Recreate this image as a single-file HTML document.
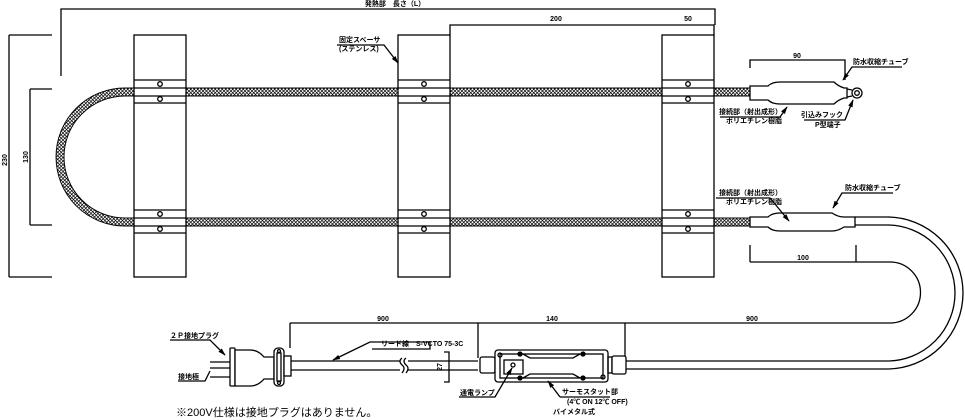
<!DOCTYPE html>
<html><head><meta charset="utf-8"><style>
body{margin:0;background:#fff}
svg{display:block}
text{font-family:"Liberation Sans","Noto Sans CJK JP",sans-serif;font-size:7px;font-weight:bold;fill:#000}
</style></head><body>
<svg width="965" height="420" viewBox="0 0 965 420" xmlns="http://www.w3.org/2000/svg">
<defs>
<pattern id="h" width="3.5" height="3.5" patternUnits="userSpaceOnUse">
<rect width="3.5" height="3.5" fill="#fff"/>
<path d="M0 0L3.5 3.5M3.5 0L0 3.5" stroke="#000" stroke-width="0.7"/>
</pattern>
<marker id="a" viewBox="0 0 10 10" refX="9" refY="5" markerWidth="6" markerHeight="6" orient="auto"><path d="M0 2L10 5L0 8z" fill="#000"/></marker>
</defs>
<g fill="none" stroke="#000" stroke-width="1.3">
<path d="M61 76V9H715V25"/>
<path d="M450 35V25H662M662 25H714V35"/>
<path d="M9 35V277M9 35H52M9 277H52"/>
<path d="M30 89V225M30 89H52M30 225H52"/>
<path d="M134 92H125A65 65 0 0 0 125 222H134" stroke="url(#h)" stroke-width="8"/>
<path d="M134 88H125A69 69 0 0 0 125 226H134M134 96H125A61 61 0 0 0 125 218H134" stroke-width="0.9"/>
<path d="M186 92H398M450 92H662M714 92H750M186 222H398M450 222H662M714 222H750" stroke="url(#h)" stroke-width="8"/>
<path d="M186 88H398M450 88H662M714 88H750M186 96H398M450 96H662M714 96H750M186 218H398M450 218H662M714 218H750M186 226H398M450 226H662M714 226H750" stroke-width="0.9"/>
<g fill="#fff">
<rect x="134" y="35" width="52" height="242"/>
<rect x="398" y="35" width="52" height="242"/>
<rect x="662" y="35" width="52" height="242"/>
</g>
<path d="M134 80H186M134 88H186M134 96H186M134 103H186M134 210H186M134 218H186M134 226H186M134 233H186"/>
<path d="M398 80H450M398 88H450M398 96H450M398 103H450M398 210H450M398 218H450M398 226H450M398 233H450"/>
<path d="M662 80H714M662 88H714M662 96H714M662 103H714M662 210H714M662 218H714M662 226H714M662 233H714"/>
<g fill="#fff">
<circle cx="160" cy="84" r="2.3"/><circle cx="160" cy="99" r="2.3"/><circle cx="160" cy="214" r="2.3"/><circle cx="160" cy="229" r="2.3"/>
<circle cx="424" cy="84" r="2.3"/><circle cx="424" cy="99" r="2.3"/><circle cx="424" cy="214" r="2.3"/><circle cx="424" cy="229" r="2.3"/>
<circle cx="688" cy="84" r="2.3"/><circle cx="688" cy="99" r="2.3"/><circle cx="688" cy="214" r="2.3"/><circle cx="688" cy="229" r="2.3"/>
</g>
<path d="M750 68V60H845V80"/>
<path d="M750 86H768Q772 82 780 82H834Q838 86 844 88H847V98H844Q838 100 834 104H780Q772 104 768 100H750Z" fill="#fff"/>
<circle cx="857" cy="93" r="5" fill="#fff"/><circle cx="857" cy="93" r="2.3"/>
<path d="M847 89L852 90M847 97L852 96"/>
<path d="M902 67H852L843 80" marker-end="url(#a)"/>
<path d="M720 117H780L787 107" marker-end="url(#a)"/>
<path d="M804 120H845L853 100" marker-end="url(#a)"/>
<path d="M750 217H768Q772 213 780 213H832Q838 217 844 217H855V227H844Q838 231 832 231H780Q772 231 768 227H750Z" fill="#fff"/>
<path d="M855 217H887A76 76 0 0 1 887 369H626M855 225H887A68 68 0 0 1 887 361H626"/>
<path d="M893 193H842L833 208" marker-end="url(#a)"/>
<path d="M716 198H770L789 221" marker-end="url(#a)"/>
<path d="M750 245V262M856 245V262M750 262H890A30.5 30.5 0 0 1 890 323H290"/>
<path d="M625 323V358M290 323V348M478 323V358"/>
<path d="M290 361H400M290 370H400M408 361H478M408 370H478"/>
<path d="M402 358Q398 361 402 365Q406 368 402 373M406 358Q402 361 406 365Q410 368 406 373"/>
<path d="M444 352H449V382H444"/>
<path d="M210 362H231M210 368H231M210 377H231"/>
<rect x="230" y="348" width="5" height="38" fill="#fff" rx="1"/>
<path d="M235 350H250Q258 350 264 357H274V379H264Q258 386 250 386H235Z" fill="#fff"/>
<rect x="274" y="348" width="10" height="38" rx="4" fill="#fff"/>
<rect x="277" y="353" width="4" height="28"/>
<circle cx="279" cy="351" r="1.5"/><circle cx="279" cy="383" r="1.5"/>
<rect x="284" y="356" width="7" height="20" fill="#fff"/>
<rect x="480" y="357" width="15" height="16" rx="2" fill="#fff"/>
<rect x="495" y="350" width="113" height="32" rx="3" fill="#fff"/>
<rect x="500" y="354" width="103" height="24" fill="none"/>
<rect x="504" y="360" width="19" height="14"/>
<circle cx="513" cy="365" r="2"/>
<circle cx="500" cy="355" r="2"/><circle cx="603" cy="377" r="2"/>
<circle cx="520" cy="354" r="2" fill="#000"/><circle cx="583" cy="354" r="2" fill="#000"/>
<circle cx="520" cy="378" r="2" fill="#000"/><circle cx="583" cy="378" r="2" fill="#000"/>
<path d="M523 354L530 358H573L580 354M523 378L530 374H573L580 378"/>
<rect x="608" y="357" width="4" height="16"/>
<rect x="612" y="356" width="14" height="18" rx="2" fill="#fff"/>
<path d="M372 349H430V342H370L333 360" marker-end="url(#a)"/>
<path d="M170 340H210L225 355" marker-end="url(#a)"/>
<path d="M178 381H205L210 371"/>
<path d="M459 397H495L512 368" marker-end="url(#a)"/>
<path d="M560 397L548 381" marker-end="url(#a)"/>
<path d="M560 397H610"/>
<path d="M337 45H384L398 63" marker-end="url(#a)"/>
</g>
<g text-anchor="middle">
<text x="395" y="6">発熱部　長さ（L）</text>
<text x="556" y="21">200</text>
<text x="688" y="21">50</text>
<text x="797" y="58">90</text>
<text x="803" y="260">100</text>
<text x="383" y="321">900</text>
<text x="552" y="321">140</text>
<text x="752" y="321">900</text>
<text x="7" y="160" transform="rotate(-90 7 160)">230</text>
<text x="28" y="157" transform="rotate(-90 28 157)">130</text>
<text x="442" y="367" transform="rotate(-90 442 367)">27</text>
</g>
<text x="339" y="42">固定スペーサ</text>
<text x="339" y="51">(ステンレス)</text>
<text x="853" y="64">防水収縮チューブ</text>
<text x="719" y="114">接続部（射出成形）</text>
<text x="726" y="123">ポリエチレン樹脂</text>
<text x="801" y="117">引込みフック</text>
<text x="815" y="127">P型端子</text>
<text x="719" y="195">接続部（射出成形）</text>
<text x="726" y="204">ポリエチレン樹脂</text>
<text x="845" y="190">防水収縮チューブ</text>
<text x="170" y="338">２Ｐ接地プラグ</text>
<text x="178" y="379">接地極</text>
<text x="381" y="346">リード線　S-VCTO 75-3C</text>
<text x="460" y="395">通電ランプ</text>
<text x="562" y="394">サーモスタット部</text>
<text x="567" y="404">(4℃ ON 12℃ OFF)</text>
<text x="553" y="414">バイメタル式</text>
<text x="176" y="416" style="font-size:11px;font-weight:normal">※200V仕様は接地プラグはありません。</text>
</svg>
</body></html>
